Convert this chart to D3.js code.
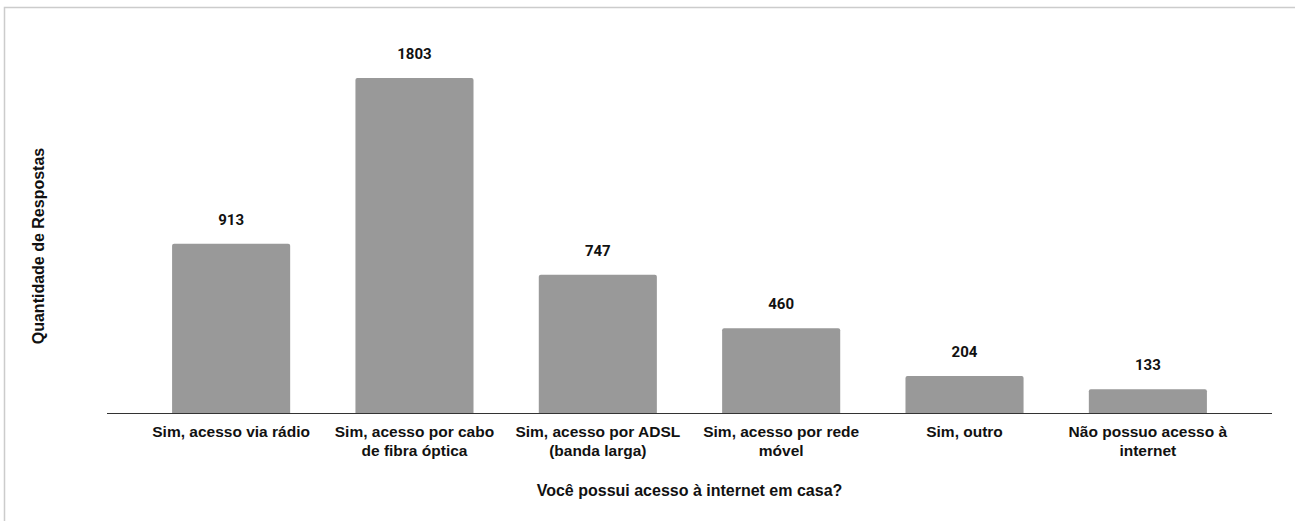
<!DOCTYPE html>
<html><head><meta charset="utf-8">
<script src="https://cdn.jsdelivr.net/npm/d3@7"></script>
<style>body{margin:0;background:#fff;} svg{display:block;}</style>
</head><body>
<svg id="chart" width="1295" height="521"></svg>
<script>
const categories = [
  ["Sim, acesso via rádio"],
  ["Sim, acesso por cabo", "de fibra óptica"],
  ["Sim, acesso por ADSL", "(banda larga)"],
  ["Sim, acesso por rede", "móvel"],
  ["Sim, outro"],
  ["Não possuo acesso à", "internet"]
];
const values = [913, 1803, 747, 460, 204, 133];
const xTitle = "Você possui acesso à internet em casa?";
const yTitle = "Quantidade de Respostas";

const svg = d3.select("#chart");
svg.append("rect").attr("x",4.5).attr("y",7.5).attr("width",1300).attr("height",530)
  .attr("fill","#fff").attr("stroke","#cccccc").attr("stroke-width",1.5);

const x = d3.scaleBand().domain(d3.range(values.length)).range([107,1272])
  .paddingInner(0.356).paddingOuter(0.355);
const y = d3.scaleLinear().domain([0,2000]).range([414,41.2]);

const g = svg.append("g");
g.selectAll("path.bar").data(values).join("path").attr("class","bar")
  .attr("fill","#999999")
  .attr("d",(d,i)=>{
    const x0=x(i), w=x.bandwidth(), y0=y(d), y1=y(0), r=2;
    return `M${x0},${y1}V${y0+r}Q${x0},${y0} ${x0+r},${y0}H${x0+w-r}Q${x0+w},${y0} ${x0+w},${y0+r}V${y1}Z`;
  });

g.selectAll("text.val").data(values).join("text").attr("class","val")
  .attr("x",(d,i)=>x(i)+x.bandwidth()/2).attr("y",d=>y(d)-19)
  .attr("text-anchor","middle").attr("font-family","Roboto, sans-serif")
  .attr("font-weight","bold").attr("font-size",15).attr("fill","#111")
  .text(d=>d);

svg.append("line").attr("x1",107).attr("x2",1272).attr("y1",413.5).attr("y2",413.5)
  .attr("stroke","#333").attr("stroke-width",1.2);

const lab = g.selectAll("text.cat").data(categories).join("text").attr("class","cat")
  .attr("text-anchor","middle").attr("font-family","'Liberation Sans', Arial, sans-serif")
  .attr("font-weight","bold").attr("font-size",15.5).attr("fill","#111");
lab.each(function(lines,i){
  const t=d3.select(this);
  lines.forEach((l,j)=>t.append("tspan").attr("x",x(i)+x.bandwidth()/2).attr("y",437+j*18.5).text(l));
});

svg.append("text").attr("x",689.5).attr("y",495.5).attr("text-anchor","middle")
  .attr("font-family","'Liberation Sans', Arial, sans-serif").attr("font-weight","bold")
  .attr("font-size",16).attr("fill","#111").text(xTitle);

svg.append("text").attr("transform","translate(43.5,246) rotate(-90)").attr("text-anchor","middle")
  .attr("font-family","'Liberation Sans', Arial, sans-serif").attr("font-weight","bold")
  .attr("font-size",16).attr("fill","#111").text(yTitle);
</script>
</body></html>
